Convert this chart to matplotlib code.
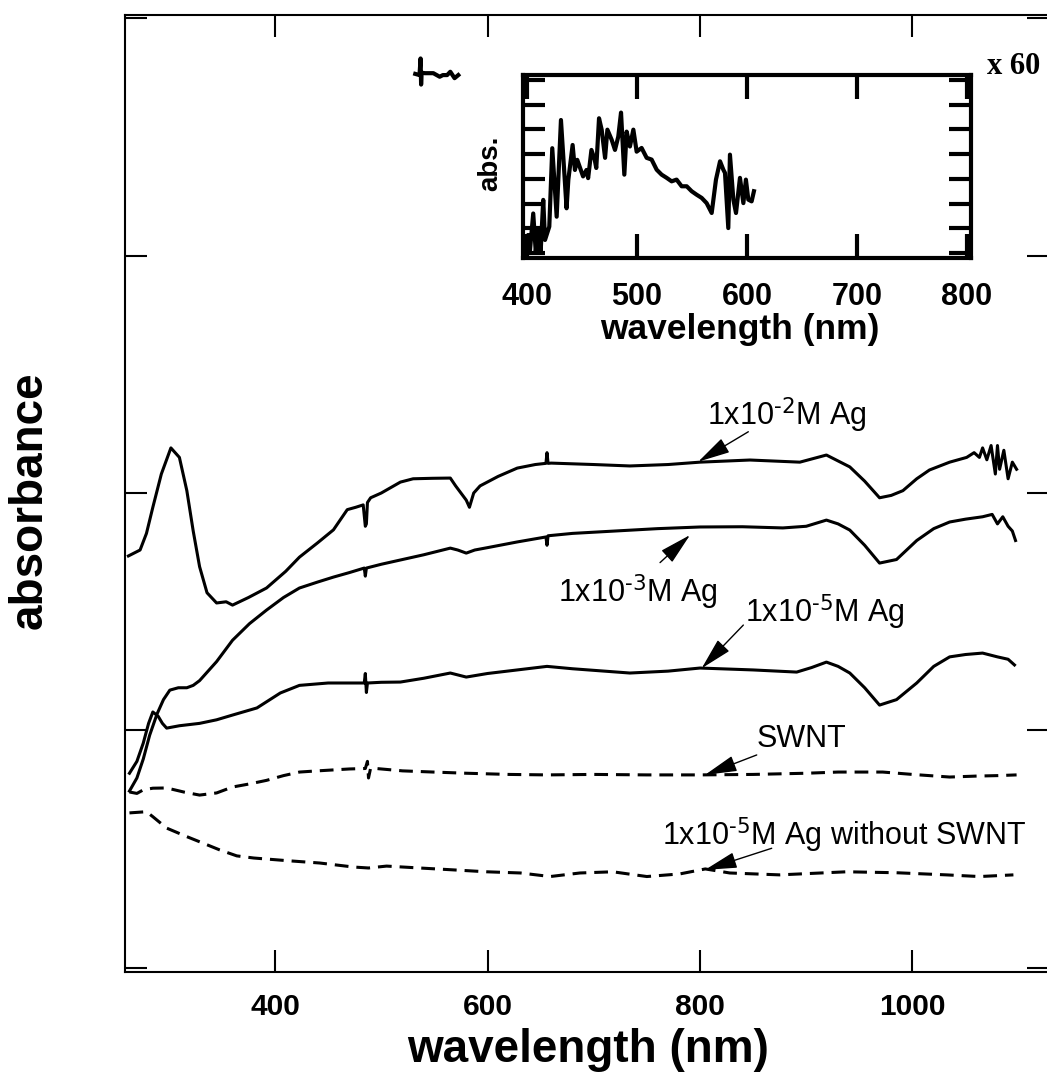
import numpy as np
import matplotlib
matplotlib.use('Agg')
import matplotlib.pyplot as plt

plt.rcParams['font.family'] = ['Liberation Sans', 'DejaVu Sans']
plt.rcParams['mathtext.default'] = 'regular'

# ---- main spectra (wavelength nm, absorbance in tick units) ----
ag2_nm = [262, 273, 279, 285, 293, 302, 310, 317, 323, 329, 336, 345, 354, 360, 375, 392, 410, 423,
          440, 455, 468, 476, 483, 485, 486, 487, 490, 500, 518, 530, 548, 565, 570, 575, 580, 583,
          587, 593, 610, 628, 645, 655, 656, 657, 660, 700, 734, 770, 800, 847, 894, 919, 941, 955,
          969, 980, 991, 1004, 1016, 1035, 1051, 1058, 1063, 1066, 1070, 1074, 1078, 1080, 1082,
          1086, 1090, 1094, 1098]
ag2_abs = [1.735, 1.76, 1.83, 1.94, 2.08, 2.19, 2.15, 2.01, 1.84, 1.69, 1.58, 1.537, 1.542, 1.528,
           1.56, 1.60, 1.67, 1.73, 1.79, 1.845, 1.93, 1.94, 1.95, 1.86, 1.87, 1.96, 1.98, 2.00, 2.046,
           2.06, 2.062, 2.063, 2.03, 2.00, 1.97, 1.94, 2.0, 2.03, 2.07, 2.105, 2.12, 2.125, 2.17,
           2.125, 2.126, 2.12, 2.114, 2.12, 2.13, 2.139, 2.13, 2.16, 2.11, 2.05, 1.98, 1.99, 2.01,
           2.06, 2.097, 2.13, 2.15, 2.17, 2.15, 2.19, 2.14, 2.2, 2.08, 2.2, 2.1, 2.18, 2.06, 2.13, 2.1]

ag3_nm = [263, 270, 276, 282, 289, 295, 301, 309, 317, 323, 329, 345, 360, 376, 392, 408, 423, 440,
          455, 470, 484, 485, 486, 500, 518, 540, 565, 572, 580, 588, 600, 628, 655, 656, 657, 680,
          720, 760, 800, 840, 878, 900, 919, 930, 941, 955, 969, 985, 1004, 1020, 1035, 1050, 1066,
          1075, 1080, 1085, 1090, 1094, 1097]
ag3_abs = [0.745, 0.80, 0.88, 0.98, 1.07, 1.13, 1.17, 1.18, 1.18, 1.19, 1.21, 1.29, 1.38, 1.45, 1.507,
           1.56, 1.60, 1.625, 1.646, 1.665, 1.684, 1.65, 1.684, 1.70, 1.718, 1.74, 1.768, 1.76, 1.747,
           1.76, 1.77, 1.794, 1.815, 1.78, 1.82, 1.83, 1.84, 1.85, 1.857, 1.858, 1.853, 1.86, 1.886,
           1.87, 1.844, 1.78, 1.705, 1.72, 1.80, 1.85, 1.878, 1.89, 1.90, 1.91, 1.87, 1.90, 1.86,
           1.84, 1.80]

ag5_nm = [263, 270, 276, 281, 285, 290, 294, 298, 310, 329, 345, 360, 383, 405, 423, 450, 470, 484,
          485, 486, 487, 500, 518, 540, 565, 580, 600, 628, 656, 680, 734, 770, 800, 850, 891, 905,
          919, 930, 941, 955, 969, 985, 1004, 1020, 1035, 1050, 1066, 1080, 1090, 1096]
ag5_abs = [0.82, 0.87, 0.947, 1.03, 1.078, 1.06, 1.03, 1.01, 1.02, 1.03, 1.045, 1.065, 1.095, 1.158,
           1.19, 1.20, 1.20, 1.20, 1.24, 1.16, 1.20, 1.203, 1.204, 1.22, 1.242, 1.225, 1.24, 1.255,
           1.27, 1.26, 1.242, 1.25, 1.263, 1.255, 1.246, 1.265, 1.288, 1.27, 1.242, 1.18, 1.107,
           1.13, 1.20, 1.27, 1.31, 1.32, 1.326, 1.31, 1.30, 1.276]

swnt_nm = [263, 270, 276, 285, 298, 315, 329, 345, 360, 376, 392, 408, 423, 440, 455, 470, 485, 487,
           488, 490, 520, 549, 580, 620, 656, 700, 750, 800, 850, 900, 930, 972, 1000, 1035, 1060,
           1080, 1098]
swnt_abs = [0.741, 0.735, 0.75, 0.757, 0.758, 0.74, 0.728, 0.737, 0.762, 0.775, 0.79, 0.81, 0.825,
            0.83, 0.834, 0.838, 0.84, 0.87, 0.80, 0.842, 0.83, 0.825, 0.82, 0.815, 0.813, 0.815,
            0.813, 0.813, 0.815, 0.82, 0.825, 0.825, 0.815, 0.804, 0.808, 0.81, 0.813]

noswnt_nm = [263, 279, 285, 298, 317, 332, 348, 364, 380, 411, 442, 474, 488, 505, 536, 568, 599,
             631, 659, 687, 718, 750, 781, 805, 828, 875, 938, 985, 1032, 1063, 1095]
noswnt_abs = [0.653, 0.658, 0.637, 0.589, 0.553, 0.526, 0.497, 0.472, 0.463, 0.452, 0.442, 0.425,
              0.421, 0.429, 0.421, 0.413, 0.405, 0.40, 0.385, 0.40, 0.405, 0.385, 0.396, 0.417, 0.40,
              0.392, 0.405, 0.401, 0.392, 0.385, 0.392]

# stray fragment above the inset
stray_nm = [532, 536, 537, 537.5, 538, 541, 549, 555, 558, 562, 565, 569, 572.5]
stray_abs = [3.765, 3.76, 3.83, 3.72, 3.77, 3.768, 3.768, 3.753, 3.76, 3.76, 3.774, 3.747, 3.76]

# ---- inset (x 60) ----
ins_nm = [399.7, 401, 402.5, 405.7, 408, 410, 412.4, 414.8, 416.4, 420.3, 423, 427, 430.9, 436,
          437.6, 441.5, 443.6, 445.7, 451, 454.1, 455.6, 458.6, 461.6, 463, 465.5, 467.9, 471, 473.1,
          477, 480, 483, 485.5, 488.5, 490.6, 493.6, 496.7, 499.7, 504.2, 508.8, 513.3, 517.9,
          522.4, 527, 531.5, 536, 540.6, 545.2, 549.7, 554.2, 558.8, 563.3, 567.9, 571.8, 575.5,
          578.5, 580, 583, 584.5, 587.6, 590, 593.6, 596.7, 599, 601.2, 604.2, 606.3]
ins_abs = [0, 0.73, 0, 1.6, 0.05, 0.94, 0.02, 2.15, 0.53, 1.07, 4.24, 1.47, 5.38, 1.81, 2.96, 4.37,
           3.36, 3.77, 3.1, 3.36, 3.03, 4.17, 3.77, 3.44, 5.45, 4.99, 3.85, 4.99, 4.58, 4.17, 4.71,
           5.68, 3.17, 4.91, 4.31, 4.99, 4.1, 4.25, 3.85, 3.78, 3.37, 3.17, 3.04, 2.9, 2.97, 2.7,
           2.7, 2.5, 2.36, 2.23, 2.02, 1.62, 2.97, 3.71, 3.37, 3.24, 1.01, 3.98, 2.16, 1.62, 3.04,
           2.02, 2.97, 2.16, 2.09, 2.5]

x_ticks = [400, 600, 800, 1000]
inset_ticks = [400, 500, 600, 700, 800]

W, H = 1047, 1075
fig = plt.figure(figsize=(W / 100, H / 100), dpi=100)

# main axes: px left 125, right ~1049 (clipped), top 15, bottom 972
ax = fig.add_axes([125 / W, 1 - 972 / H, 924 / W, 957 / H])
ax.plot(ag2_nm, ag2_abs, color='k', lw=2.2)
ax.plot(ag3_nm, ag3_abs, color='k', lw=2.2)
ax.plot(ag5_nm, ag5_abs, color='k', lw=2.2)
ax.plot(swnt_nm, swnt_abs, color='k', lw=2.2, ls=(0, (4.5, 2.6)))
ax.plot(noswnt_nm, noswnt_abs, color='k', lw=2.2, ls=(0, (4.5, 2.6)))
ax.plot(stray_nm, stray_abs, color='k', lw=3)

ax.set_xlim(258.8, 1128.5)
ax.set_ylim(-0.017, 4.013)
ax.set_xticks(x_ticks)
ax.set_yticks([0, 1, 2, 3, 4])
ax.set_yticklabels([])
ax.tick_params(direction='in', length=16, width=1.5, top=True, right=True,
               labelsize=21.5, pad=15)
for lab in ax.get_xticklabels():
    lab.set_fontweight('bold')
for s in ax.spines.values():
    s.set_linewidth(1.5)

ax.set_xlabel('wavelength (nm)', fontsize=33, fontweight='bold')
ax.xaxis.set_label_coords(0.501, -0.0815)
ax.xaxis.label.set_va('center')
ax.set_ylabel('absorbance', fontsize=33, fontweight='bold')
ax.yaxis.set_label_coords(-0.1028, 0.493)
ax.yaxis.label.set_va('center')

arrow = dict(arrowstyle='-|>,head_length=1.0,head_width=0.25', color='k', lw=1,
             shrinkA=0, shrinkB=0, mutation_scale=20)
labels = [
    (r'1x10$^{\text{-2}}$M Ag', (881.6, 2.328), (845.5, 2.258), (798.4, 2.132)),
    (r'1x10$^{\text{-3}}$M Ag', (741.2, 1.584), (762.4, 1.707), (790.6, 1.823)),
    (r'1x10$^{\text{-5}}$M Ag', (917.6, 1.50), (840.8, 1.444), (801.6, 1.262)),
    ('SWNT', (895.7, 0.963), (853.4, 0.897), (804.7, 0.813)),
    (r'1x10$^{\text{-5}}$M Ag without SWNT', (935.7, 0.56), (867.5, 0.504), (804.7, 0.413)),
]
for txt, tpos, start, tip in labels:
    ax.text(tpos[0], tpos[1], txt, fontsize=22, ha='center', va='center')
    ax.annotate('', xy=tip, xytext=start, arrowprops=arrow)

# inset: px left 523, right 971, top 75, bottom 258
ins = fig.add_axes([523 / W, 1 - 258 / H, 448 / W, 183 / H])
ins.plot(ins_nm, ins_abs, color='k', lw=3)
ins.set_xlim(396.4, 803.6)
ins.set_ylim(-0.2, 7.2)
ins.set_xticks(inset_ticks)
ins.set_yticks(range(8))
ins.set_yticklabels([])
ins.tick_params(axis='x', direction='in', length=17, width=3, top=True, labelsize=22, pad=17)
ins.tick_params(axis='y', direction='in', length=16, width=3, right=True)
for lab in ins.get_xticklabels():
    lab.set_fontweight('bold')
for s in ins.spines.values():
    s.set_linewidth(3)
ins.set_xlabel('wavelength (nm)', fontsize=25.5, fontweight='bold')
ins.xaxis.set_label_coords(0.484, -0.393)
ins.xaxis.label.set_va('center')
ins.set_ylabel('abs.', fontsize=20, fontweight='bold')
ins.yaxis.set_label_coords(-0.074, 0.52)
ins.yaxis.label.set_va('center')

fig.text(1014 / W, 1 - 67 / H, 'x 60', family='Liberation Serif', fontweight='bold',
         fontsize=22, ha='center', va='center')

fig.savefig('out.png', dpi=100)
